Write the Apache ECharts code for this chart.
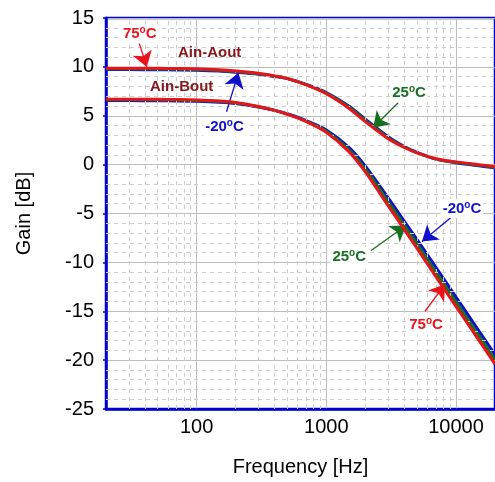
<!DOCTYPE html>
<html>
<head>
<meta charset="utf-8">
<script src="https://cdn.jsdelivr.net/npm/echarts@6/dist/echarts.min.js"></script>
<style>html,body{margin:0;padding:0;background:#fff}#c{width:495px;height:482px}</style>
</head>
<body>
<div id="c"></div>
<script>
// Frequencies (Hz)
var freq = [20, 30, 50, 70, 100, 150, 200, 300, 400, 500, 700, 1000, 1500, 2000, 3000, 4000, 5000, 7000, 10000, 15000, 20000];
// Ain-Aout gain (dB)
var aoutM20 = [9.72, 9.72, 9.71, 9.69, 9.66, 9.57, 9.45, 9.25, 9.02, 8.8, 8.2, 7.38, 5.98, 4.65, 2.85, 1.85, 1.25, 0.56, 0.18, -0.12, -0.32];
var aout25  = [9.8, 9.8, 9.79, 9.77, 9.74, 9.64, 9.52, 9.3, 9.05, 8.81, 8.18, 7.32, 5.87, 4.53, 2.75, 1.8, 1.22, 0.58, 0.23, -0.06, -0.26];
var aout75  = [9.87, 9.87, 9.86, 9.83, 9.8, 9.7, 9.58, 9.35, 9.08, 8.82, 8.15, 7.25, 5.75, 4.4, 2.65, 1.75, 1.2, 0.6, 0.28, 0.0, -0.2];
// Ain-Bout gain (dB)
var boutM20 = [6.55, 6.55, 6.54, 6.52, 6.48, 6.38, 6.25, 5.9, 5.55, 5.2, 4.5, 3.55, 1.75, -0.15, -3.4, -5.8, -7.65, -10.5, -13.55, -17.0, -19.45];
var bout25  = [6.63, 6.63, 6.62, 6.6, 6.56, 6.45, 6.3, 5.93, 5.55, 5.17, 4.45, 3.42, 1.5, -0.45, -3.8, -6.2, -8.1, -11.0, -14.05, -17.5, -19.95];
var bout75  = [6.7, 6.7, 6.68, 6.66, 6.62, 6.5, 6.35, 5.95, 5.55, 5.15, 4.4, 3.3, 1.3, -0.75, -4.2, -6.65, -8.55, -11.45, -14.5, -17.95, -20.4];
// Axis ticks
var yTicks = [-25, -20, -15, -10, -5, 0, 5, 10, 15];
var xMajor = [100, 1000, 10000];
var xMinor = [30, 40, 50, 60, 70, 80, 90, 200, 300, 400, 500, 600, 700, 800, 900, 2000, 3000, 4000, 5000, 6000, 7000, 8000, 9000];
var yMinor = [-24,-23,-22,-21,-19,-18,-17,-16,-14,-13,-12,-11,-9,-8,-7,-6,-4,-3,-2,-1,1,2,3,4,6,7,8,9,11,12,13,14];

// Annotations: [text, colour, labelX, labelY, arrowStartX, arrowStartY, tipX, tipY]
var RED = '#E8141B', GREEN = '#17701F', BLUE = '#1010CC', MAROON = '#86161A';
var tempNotes = [
  ['75', RED,   36.4, 13.37, 35.8, 12.55, 41.3, 10.0],
  ['-20', BLUE, 164,  3.88,  170,  5.41,  210,  9.39],
  ['25', GREEN, 4346, 7.35,  3580, 6.33,  2299, 3.78],
  ['-20', BLUE, 11120, -4.49, 9153, -5.41, 5470, -7.86],
  ['25', GREEN, 1503, -9.39, 2218, -8.78, 4123, -6.22],
  ['75', RED,   5876, -16.43, 5775, -15.0, 8225, -12.24]
];
var nameNotes = [
  ['Ain-Aout', MAROON, 126, 11.43],
  ['Ain-Bout', MAROON, 76.7, 7.96]
];

function mk(name, data, color, z) {
  return {
    type: 'line', name: name, data: freq.map(function (f, i) { return [f, data[i]]; }),
    showSymbol: false, symbol: 'none', smooth: 0.3, z: z,
    lineStyle: { color: color, width: 3 }
  };
}

var markPts = [];
tempNotes.forEach(function (n) {
  markPts.push({
    coord: [n[2], n[3]], symbol: 'rect', symbolSize: 0,
    label: {
      show: true, position: 'inside', backgroundColor: '#fff', padding: [1, 2],
      formatter: '{n|' + n[0] + '}{s|o}{n|C}',
      rich: {
        n: { fontFamily: 'Liberation Sans, Arial', fontWeight: 'bold', fontSize: 15, color: n[1], lineHeight: 17 },
        s: { fontFamily: 'Liberation Sans, Arial', fontWeight: 'bold', fontSize: 10, color: n[1], verticalAlign: 'top', lineHeight: 9 }
      }
    }
  });
});
nameNotes.forEach(function (n) {
  markPts.push({
    coord: [n[2], n[3]], symbol: 'rect', symbolSize: 0,
    label: { show: true, position: 'inside', formatter: n[0], fontFamily: 'Liberation Sans, Arial', fontWeight: 'bold', fontSize: 15, color: n[1] }
  });
});
var arrows = tempNotes.map(function (n) {
  return [{ coord: [n[4], n[5]], lineStyle: { color: n[1], width: 1.3, type: 'solid' }, itemStyle: { color: n[1] } }, { coord: [n[6], n[7]] }];
});

var gridLines = [];
xMinor.forEach(function (v) { gridLines.push({ xAxis: v }); });
yMinor.forEach(function (v) { gridLines.push({ yAxis: v }); });

var chart = echarts.init(document.getElementById('c'), null, { renderer: 'canvas' });
chart.setOption({
  animation: false,
  backgroundColor: '#fff',
  grid: { left: 106, top: 18, right: -2, bottom: 71, show: true, borderColor: '#0000CC', borderWidth: 2.5, backgroundColor: 'transparent' },
  xAxis: {
    type: 'log', logBase: 10, min: 20, max: 20000,
    name: 'Frequency [Hz]', nameLocation: 'middle', nameGap: 48,
    nameTextStyle: { fontFamily: 'Liberation Sans, Arial', fontSize: 20, color: '#000' },
    axisLine: { show: true, onZero: false, lineStyle: { color: '#0000CC', width: 2.5 } },
    axisTick: { show: false },
    axisLabel: {
      fontFamily: 'Liberation Sans, Arial', fontSize: 20, color: '#000', margin: 8,
      showMinLabel: false, showMaxLabel: false,
      formatter: function (v) { return xMajor.indexOf(Math.round(v)) >= 0 ? String(Math.round(v)) : ''; }
    },
    splitLine: { show: true, lineStyle: { color: '#BEBEBE', width: 1 } }
  },
  yAxis: {
    type: 'value', min: yTicks[0], max: yTicks[yTicks.length - 1], interval: 5,
    name: 'Gain [dB]', nameLocation: 'middle', nameGap: 72,
    nameTextStyle: { fontFamily: 'Liberation Sans, Arial', fontSize: 20, color: '#000' },
    axisLine: { show: true, onZero: false, lineStyle: { color: '#0000CC', width: 2.5 } },
    axisTick: { show: true, length: 3, lineStyle: { color: '#0000CC', width: 1.5 } },
    axisLabel: { fontFamily: 'Liberation Sans, Arial', fontSize: 20, color: '#000', margin: 12 },
    splitLine: { show: true, lineStyle: { color: '#BEBEBE', width: 1 } }
  },
  series: [
    {
      type: 'line', data: [], silent: true, z: 1,
      markLine: {
        silent: true, symbol: 'none', animation: false, label: { show: false },
        lineStyle: { color: '#CDCDCD', width: 1, type: [4, 4] },
        data: gridLines
      }
    },
    mk('Aout -20', aoutM20, BLUE, 3),
    mk('Aout 25', aout25, GREEN, 4),
    mk('Aout 75', aout75, RED, 5),
    mk('Bout -20', boutM20, BLUE, 3),
    mk('Bout 25', bout25, GREEN, 4),
    Object.assign(mk('Bout 75', bout75, RED, 5), {
      markLine: {
        silent: true, animation: false, symbol: ['none', 'arrow'], symbolSize: 15,
        label: { show: false }, data: arrows
      },
      markPoint: { silent: true, animation: false, data: markPts }
    })
  ]
});
</script>
</body>
</html>
